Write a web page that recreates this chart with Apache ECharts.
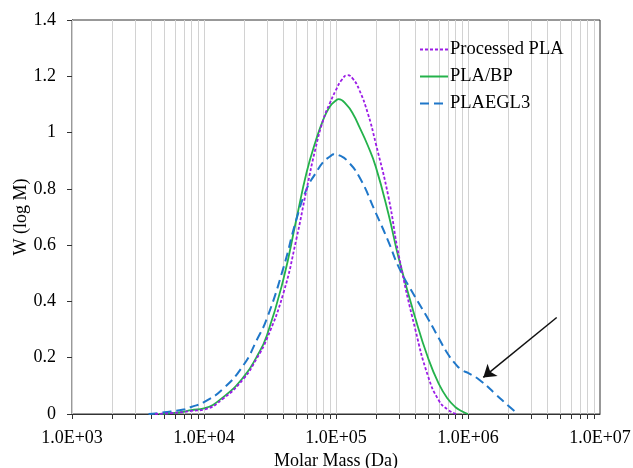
<!DOCTYPE html>
<html>
<head>
<meta charset="utf-8">
<script src="https://cdn.jsdelivr.net/npm/echarts@6/dist/echarts.min.js"></script>
<style>
html,body{margin:0;padding:0;background:#fff;}
#c{width:633px;height:468px;}
</style>
</head>
<body>
<div id="c"></div>
<script>
// ---- data (x values are log10 of molar mass) ----
const seriesNames = ['Processed PLA', 'PLA/BP', 'PLAEGL3'];

const logM_PLA = [3.63, 3.75, 3.845, 3.903, 4.0, 4.146, 4.301, 4.399, 4.477, 4.602, 4.699, 4.778, 4.845, 4.903, 4.954, 5.0, 5.04, 5.088, 5.13, 5.176, 5.24, 5.301, 5.398, 5.477, 5.602, 5.699, 5.778, 5.845, 5.91];
const W_PLA    = [0, 0.003, 0.007, 0.011, 0.016, 0.055, 0.126, 0.197, 0.268, 0.43, 0.62, 0.80, 0.944, 1.045, 1.105, 1.152, 1.185, 1.204, 1.19, 1.152, 1.07, 0.962, 0.77, 0.56, 0.298, 0.132, 0.049, 0.016, 0];

const logM_BP = [3.66, 3.75, 3.845, 3.903, 4.0, 4.146, 4.301, 4.399, 4.477, 4.602, 4.699, 4.778, 4.845, 4.903, 4.954, 5.0, 5.02, 5.079, 5.13, 5.176, 5.24, 5.301, 5.398, 5.477, 5.602, 5.699, 5.778, 5.845, 5.903, 5.954, 6.0];
const W_BP    = [0, 0.003, 0.008, 0.014, 0.02, 0.06, 0.132, 0.203, 0.28, 0.48, 0.69, 0.86, 0.968, 1.045, 1.093, 1.114, 1.119, 1.099, 1.065, 1.021, 0.955, 0.879, 0.71, 0.55, 0.339, 0.197, 0.108, 0.055, 0.025, 0.01, 0];

const logM_EGL = [3.58, 3.7, 3.845, 3.903, 4.0, 4.146, 4.301, 4.399, 4.477, 4.602, 4.699, 4.778, 4.845, 4.903, 4.954, 4.985, 5.03, 5.079, 5.176, 5.301, 5.398, 5.477, 5.602, 5.699, 5.778, 5.845, 5.903, 5.954, 6.0, 6.09, 6.217, 6.301, 6.38];
const W_EGL    = [0, 0.006, 0.016, 0.025, 0.042, 0.09, 0.175, 0.262, 0.34, 0.52, 0.69, 0.80, 0.855, 0.895, 0.915, 0.923, 0.918, 0.903, 0.843, 0.715, 0.612, 0.52, 0.414, 0.337, 0.27, 0.215, 0.179, 0.156, 0.146, 0.12, 0.067, 0.031, 0];

const xDecades = [1e3, 1e4, 1e5, 1e6, 1e7];
// annotation arrow (tail, head) in data units: [molar mass, W]
const arrowTail = [4.7e6, 0.343];
const arrowHead = [1.306e6, 0.13];

// ---- build ----
function pairs(lx, w) { return lx.map((v, i) => [Math.pow(10, v), w[i]]); }
const gridPositions = [];
for (let d = 0; d < xDecades.length - 1; d++) {
  for (let k = 1; k <= 9; k++) gridPositions.push([k * xDecades[d], 0]);
}
const serif = 'Liberation Serif';

const chart = echarts.init(document.getElementById('c'));
chart.setOption({
  animation: false,
  backgroundColor: '#fff',
  grid: { left: 72, top: 20, right: 33, bottom: 54, containLabel: false, outerBoundsMode: 'none',
          show: true, borderColor: '#333', borderWidth: 1, backgroundColor: 'transparent' },
  xAxis: {
    type: 'log', logBase: 10, min: xDecades[0], max: xDecades[xDecades.length - 1],
    name: 'Molar Mass (Da)', nameLocation: 'middle', nameGap: 38, nameMoveOverlap: false,
    nameTextStyle: { fontFamily: serif, fontSize: 18, color: '#000' },
    axisLine: { lineStyle: { color: '#333', width: 1 } },
    axisTick: { show: false },
    splitLine: { show: false },
    axisLabel: {
      fontFamily: serif, fontSize: 18, color: '#000', margin: 15,
      formatter: v => {
        const e = Math.round(Math.log10(v));
        return '1.0E+' + (e < 10 ? '0' : '') + e;
      }
    }
  },
  yAxis: {
    type: 'value', min: 0, max: 1.4, interval: 0.2,
    name: 'W (log M)', nameLocation: 'middle', nameGap: 42, nameMoveOverlap: false,
    nameTextStyle: { fontFamily: serif, fontSize: 18, color: '#000' },
    axisLine: { show: true, lineStyle: { color: '#333', width: 1 } },
    axisTick: { show: true, inside: false, length: 5, lineStyle: { color: '#333' } },
    splitLine: { show: false },
    axisLabel: { fontFamily: serif, fontSize: 18, color: '#000', margin: 16,
      formatter: v => String(parseFloat(v.toFixed(1))) }
  },
  legend: {
    data: seriesNames, orient: 'vertical', left: 414, top: 35, itemGap: 8,
    itemWidth: 28, itemHeight: 14,
    itemStyle: { opacity: 0 },
    textStyle: { fontFamily: serif, fontSize: 18.5, color: '#000', padding: [0,0,0,-3] }
  },
  series: [
    {
      type: 'custom', name: 'grid', silent: true, z: 1, clip: false,
      data: gridPositions,
      renderItem: (params, api) => {
        const v = api.value(0);
        const pb = api.coord([v, 0]);
        const pt = api.coord([v, 1.4]);
        const x = Math.round(pb[0]) + 0.5;
        return { type: 'group', children: [
          { type: 'line', shape: { x1: x, y1: pt[1], x2: x, y2: pb[1] }, style: { stroke: '#d2d2d2', lineWidth: 1 } },
          { type: 'line', shape: { x1: x, y1: pb[1], x2: x, y2: pb[1] + 5 }, style: { stroke: '#333', lineWidth: 1 } }
        ]};
      }
    },
    {
      name: seriesNames[0], type: 'line', data: pairs(logM_PLA, W_PLA), smooth: 0.5, symbol: 'none', z: 4,
      lineStyle: { color: '#9B1CE6', width: 1.8, type: [3, 2] }, itemStyle: { color: '#9B1CE6' }
    },
    {
      name: seriesNames[1], type: 'line', data: pairs(logM_BP, W_BP), smooth: 0.5, symbol: 'none', z: 3,
      lineStyle: { color: '#24B24B', width: 1.8, type: 'solid' }, itemStyle: { color: '#24B24B' }
    },
    {
      name: seriesNames[2], type: 'line', data: pairs(logM_EGL, W_EGL), smooth: 0.5, symbol: 'none', z: 3,
      lineStyle: { color: '#1F77C9', width: 2, type: [9, 5] }, itemStyle: { color: '#1F77C9' },
      markLine: {
        silent: true, animation: false, symbol: ['none', 'arrow'], symbolSize: 12,
        label: { show: false },
        lineStyle: { color: '#111', width: 1.5, type: 'solid' },
        data: [[{ coord: arrowTail }, { coord: arrowHead }]]
      }
    }
  ]
});
</script>
</body>
</html>
